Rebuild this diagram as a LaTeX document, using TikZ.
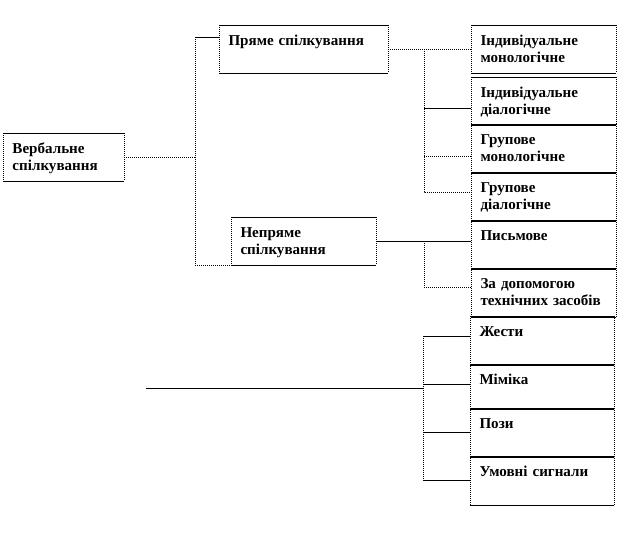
\documentclass[tikz,border=0pt]{standalone}
\usepackage{fontspec}
\setmainfont{Liberation Serif}
\usetikzlibrary{calc}
\begin{document}
\begin{tikzpicture}[x=0.75pt,y=-0.75pt,line width=0.75pt,
  bx/.style={inner xsep=6.75pt, inner ysep=0pt, anchor=north west, align=left,
    text height=15pt, font=\fontsize{11.3}{12.75}\selectfont\bfseries},
  hA/.style={text depth=20.25pt},
  hB/.style={text depth=21pt},
  hC/.style={text depth=18pt},
  dotln/.style={dash pattern=on 0.75pt off 0.75pt}]
\useasboundingbox (0,0) rectangle (618,540);
% boxes
\node[bx,hA,text width=76.5pt] (V) at (3,133) {Вербальне\\спілкування};
\node[bx,hA,text width=112.5pt] (P) at (219,25) {Пряме спілкування};
\node[bx,hA,text width=94.5pt] (N) at (231,217) {Непряме\\спілкування};
\node[bx,hA,text width=94.5pt] (R1) at (471,25) {Індивідуальне\\монологічне};
\node[bx,hA,text width=94.5pt] (R2) at (471,77) {Індивідуальне\\діалогічне};
\node[bx,hB,text width=94.5pt] (R3) at (471,124) {Групове\\монологічне};
\node[bx,hB,text width=94.5pt] (R4) at (471,172) {Групове\\діалогічне};
\node[bx,hB,text width=94.5pt] (R5) at (471,220) {Письмове};
\node[bx,hB,text width=94.5pt] (R6) at (471,268) {За допомогою\\\mbox{технічних засобів}};
\node[bx,hB,text width=93.75pt] (L1) at (470,316) {Жести};
\node[bx,hC,text width=93.75pt] (L2) at (470,364) {Міміка};
\node[bx,hB,text width=93.75pt] (L3) at (470,408) {Пози};
\node[bx,hB,text width=93.75pt] (L4) at (470,456) {Умовні сигнали};
\foreach \n in {V,P,N,R1,R2,R3,R4,R5,R6,L1,L2,L3,L4}{
  \draw (\n.north west) -- (\n.north east) (\n.south west) -- (\n.south east);
  \draw[dotln] (\n.north west) -- (\n.south west) (\n.north east) -- (\n.south east);
}
% left tree
\coordinate (jV) at ($(V.east)+(71,0)$);
\coordinate (pIn) at ($(P.north west)+(0,12)$);
\draw[dotln] (V.east) -- (jV);
\draw[dotln] (pIn -| jV) -- (jV |- N.south west) -- (N.south west);
\draw (pIn -| jV) -- (pIn);
% tree of P
\coordinate (jP) at ($(P.east)+(36,0)$);
\coordinate (r2) at ($(R2.north west)+(0,31)$);
\coordinate (r3) at ($(R3.north west)+(0,32)$);
\coordinate (r4) at ($(R4.north west)+(0,20)$);
\draw[dotln] (P.east) -- (R1.west);
\draw[dotln] (jP) -- (jP |- r4) -- (r4);
\draw (jP |- r2) -- (r2);
\draw[dotln] (jP |- r3) -- (r3);
% tree of N
\coordinate (r6) at ($(R6.north west)+(0,19)$);
\draw (N.east) -- (N.east -| R5.west);
\draw[dotln] (jP |- N.east) -- (jP |- r6) -- (r6);
% lower tree
\coordinate (s) at (146,388);
\coordinate (jL) at (423,388);
\coordinate (l1) at ($(L1.north west)+(0,20)$);
\coordinate (l2) at ($(L2.north west)+(0,20)$);
\coordinate (l3) at ($(L3.north west)+(0,24)$);
\coordinate (l4) at ($(L4.north west)+(0,24)$);
\draw (s) -- (jL);
\draw[dotln] (jL |- l1) -- (jL |- l4);
\foreach \c in {l1,l2,l3,l4}{\draw (jL |- \c) -- (\c);}
\end{tikzpicture}
\end{document}
